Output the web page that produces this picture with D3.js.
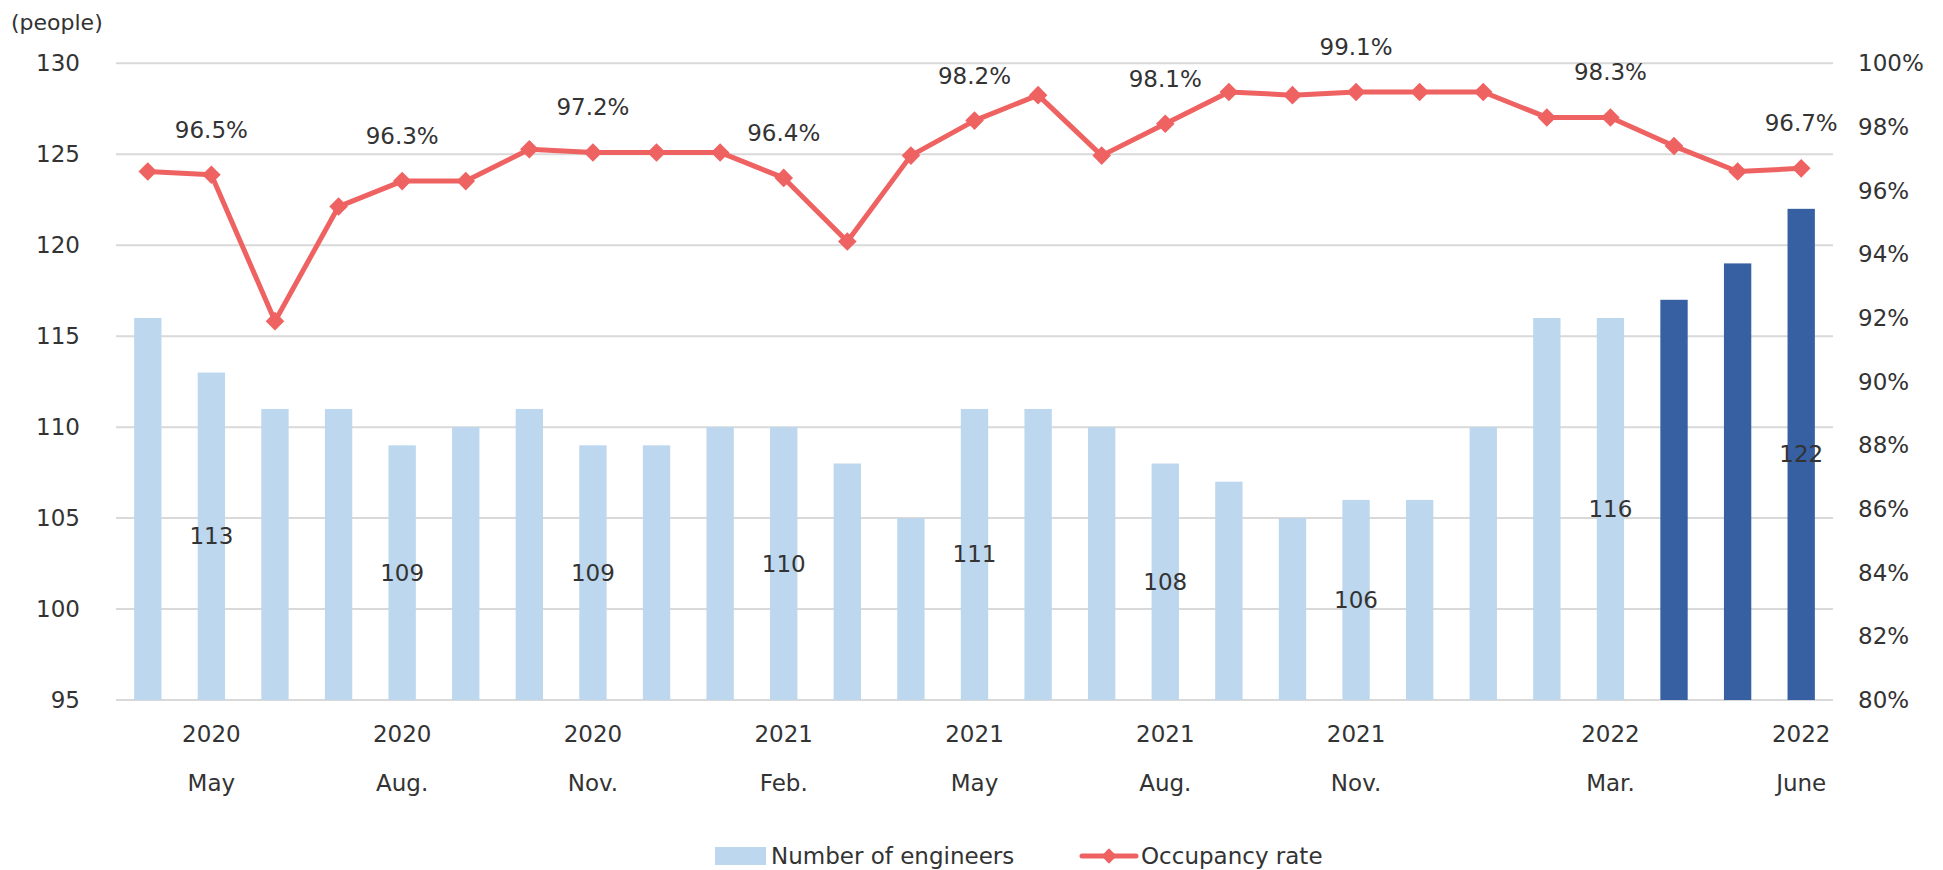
<!DOCTYPE html>
<html>
<head>
<meta charset="utf-8">
<script src="https://cdn.jsdelivr.net/npm/d3@7"></script>
<style>
  body { margin: 0; background: #fff; }
  text { font-family: "DejaVu Sans", sans-serif; fill: #333; }
</style>
</head>
<body>
<script>
// monthly data, April 2020 - June 2022
const months = ["2020-04","2020-05","2020-06","2020-07","2020-08","2020-09","2020-10","2020-11","2020-12",
                "2021-01","2021-02","2021-03","2021-04","2021-05","2021-06","2021-07","2021-08","2021-09",
                "2021-10","2021-11","2021-12","2022-01","2022-02","2022-03","2022-04","2022-05","2022-06"];
const engineers = [116,113,111,111,109,110,111,109,109,110,110,108,105,111,111,110,108,107,105,106,106,110,116,116,117,119,122];
const occupancy = [96.6,96.5,91.9,95.5,96.3,96.3,97.3,97.2,97.2,97.2,96.4,94.4,97.1,98.2,99.0,97.1,98.1,99.1,99.0,99.1,99.1,99.1,98.3,98.3,97.4,96.6,96.7];
const darkMonths = ["2022-04","2022-05","2022-06"];

const labelMonths = ["2020-05","2020-08","2020-11","2021-02","2021-05","2021-08","2021-11","2022-03","2022-06"];
const tickYears  = ["2020","2020","2020","2021","2021","2021","2021","2022","2022"];
const tickMonths = ["May","Aug.","Nov.","Feb.","May","Aug.","Nov.","Mar.","June"];

const leftTicks = [95,100,105,110,115,120,125,130];
const rightTicks = [80,82,84,86,88,90,92,94,96,98,100];

const width = 1943, height = 870;
const lightBlue = "#BDD7EE", darkBlue = "#3760A2", red = "#EE6262";
const fs = "23px";

const svg = d3.select("body").append("svg")
    .attr("width", width)
    .attr("height", height);

const x = d3.scaleBand().domain(months).range([116, 1833]).padding(0);
const yL = d3.scaleLinear().domain([95, 130]).range([700, 63.3]);
const yR = d3.scaleLinear().domain([80, 100]).range([700, 63.3]);
const barW = x.bandwidth() * 0.43;
const cx = m => x(m) + x.bandwidth() / 2;

// gridlines
svg.append("g").selectAll("line")
  .data(leftTicks)
  .enter().append("line")
    .attr("x1", 116).attr("x2", 1833)
    .attr("y1", d => yL(d)).attr("y2", d => yL(d))
    .attr("stroke", "#D9D9D9")
    .attr("stroke-width", 2);

// left axis
const axL = svg.append("g")
    .attr("transform", "translate(80,0)")
    .call(d3.axisLeft(yL).tickValues(leftTicks).tickSize(0).tickPadding(0));
axL.select(".domain").remove();
axL.selectAll("text").style("font-size", fs).attr("fill", "#333");

// right axis
const axR = svg.append("g")
    .attr("transform", "translate(1858,0)")
    .call(d3.axisRight(yR).tickValues(rightTicks).tickSize(0).tickPadding(0).tickFormat(d => d + "%"));
axR.select(".domain").remove();
axR.selectAll("text").style("font-size", fs).attr("fill", "#333");

svg.append("text")
    .attr("x", 11).attr("y", 30)
    .style("font-size", "22px")
    .text("(people)");

// bars
svg.append("g").selectAll("rect")
  .data(months)
  .enter().append("rect")
    .attr("x", d => cx(d) - barW / 2)
    .attr("width", barW)
    .attr("y", (d, i) => yL(engineers[i]))
    .attr("height", (d, i) => yL(95) - yL(engineers[i]))
    .attr("fill", d => darkMonths.includes(d) ? darkBlue : lightBlue);

// bar labels (centered in bar)
svg.append("g").selectAll("text")
  .data(labelMonths)
  .enter().append("text")
    .attr("x", d => cx(d))
    .attr("y", d => {
      const v = engineers[months.indexOf(d)];
      return (yL(v) + yL(95)) / 2;
    })
    .attr("text-anchor", "middle")
    .attr("dominant-baseline", "central")
    .style("font-size", fs)
    .text(d => engineers[months.indexOf(d)]);

// occupancy line
const line = d3.line()
    .x((d, i) => cx(months[i]))
    .y(d => yR(d));

svg.append("path")
    .datum(occupancy)
    .attr("d", line)
    .attr("fill", "none")
    .attr("stroke", red)
    .attr("stroke-width", 5)
    .attr("stroke-linejoin", "round");

const diamond = d3.symbol().type(d3.symbolDiamond2).size(220);
svg.append("g").selectAll("path")
  .data(occupancy)
  .enter().append("path")
    .attr("d", diamond)
    .attr("transform", (d, i) => `translate(${cx(months[i])},${yR(d)})`)
    .attr("fill", red);

// line labels
svg.append("g").selectAll("text")
  .data(labelMonths)
  .enter().append("text")
    .attr("x", d => cx(d))
    .attr("y", d => yR(occupancy[months.indexOf(d)]) - 45)
    .attr("text-anchor", "middle")
    .attr("dominant-baseline", "central")
    .style("font-size", fs)
    .text(d => d3.format(".1f")(occupancy[months.indexOf(d)]) + "%");

// x axis labels
const xl = svg.append("g").selectAll("g")
  .data(labelMonths)
  .enter().append("g")
    .attr("transform", d => `translate(${cx(d)},0)`);
xl.append("text")
    .attr("y", 734).attr("text-anchor", "middle").attr("dominant-baseline", "central")
    .style("font-size", fs)
    .text((d, i) => tickYears[i]);
xl.append("text")
    .attr("y", 783).attr("text-anchor", "middle").attr("dominant-baseline", "central")
    .style("font-size", fs)
    .text((d, i) => tickMonths[i]);

// legend
const lg = svg.append("g").attr("transform", "translate(0,856)");
lg.append("rect")
    .attr("x", 715).attr("y", -9).attr("width", 51).attr("height", 18)
    .attr("fill", lightBlue);
lg.append("text")
    .attr("x", 771).attr("y", 0).attr("dominant-baseline", "central")
    .style("font-size", fs)
    .text("Number of engineers");
lg.append("line")
    .attr("x1", 1082).attr("x2", 1136).attr("y1", 0).attr("y2", 0)
    .attr("stroke", red).attr("stroke-width", 5).attr("stroke-linecap", "round");
lg.append("path")
    .attr("d", d3.symbol().type(d3.symbolDiamond2).size(150))
    .attr("transform", "translate(1109,0)")
    .attr("fill", red);
lg.append("text")
    .attr("x", 1141).attr("y", 0).attr("dominant-baseline", "central")
    .style("font-size", fs)
    .text("Occupancy rate");
</script>
</body>
</html>
